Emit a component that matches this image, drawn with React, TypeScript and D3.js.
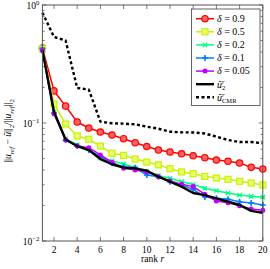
import { useEffect, useRef } from "react";
import * as d3 from "d3";

// rank r (x axis categories)
const ranks = [1, 2, 3, 4, 5, 6, 7, 8, 9, 10, 11, 12, 13, 14, 15, 16, 17, 18, 19, 20];
const xTicks = [2, 4, 6, 8, 10, 12, 14, 16, 18, 20];
const yDecades = [1, 0.1, 0.01];

// relative error values
const delta09 = [0.432, 0.187, 0.139, 0.102, 0.0907, 0.0839, 0.0791, 0.0736, 0.0681, 0.0632, 0.059, 0.0568, 0.0549, 0.0528, 0.0508, 0.0486, 0.0474, 0.0458, 0.0421, 0.0408];
const delta05 = [0.425, 0.145, 0.098, 0.0776, 0.0728, 0.0638, 0.0554, 0.0532, 0.0495, 0.0467, 0.0442, 0.041, 0.0385, 0.0372, 0.0353, 0.0342, 0.0333, 0.0321, 0.031, 0.0298];
const delta02 = [0.42, 0.124, 0.0732, 0.0651, 0.0602, 0.0505, 0.0477, 0.045, 0.0418, 0.0387, 0.0358, 0.034, 0.0318, 0.0301, 0.028, 0.0267, 0.0255, 0.0245, 0.0239, 0.0235];
const delta01 = [0.428, 0.1215, 0.0718, 0.0638, 0.059, 0.0518, 0.0455, 0.0426, 0.0418, 0.0362, 0.0351, 0.0318, 0.0298, 0.0274, 0.0236, 0.023, 0.0226, 0.0215, 0.021, 0.0202];
const delta005 = [0.411, 0.12, 0.0718, 0.0638, 0.0618, 0.0536, 0.0465, 0.0413, 0.04, 0.0387, 0.0351, 0.0323, 0.0303, 0.0289, 0.0249, 0.0218, 0.0211, 0.0199, 0.0187, 0.0182];
const u2 = [0.416, 0.124, 0.0725, 0.0638, 0.059, 0.0495, 0.0447, 0.0418, 0.0413, 0.0394, 0.0351, 0.0318, 0.0289, 0.0255, 0.0245, 0.023, 0.0215, 0.0202, 0.018, 0.0173];
const cmr = [0.861, 0.536, 0.5, 0.198, 0.192, 0.1026, 0.0994, 0.0987, 0.0975, 0.0931, 0.0895, 0.0844, 0.0834, 0.0831, 0.0815, 0.0766, 0.0718, 0.069, 0.069, 0.0673];

const deltaLabels = ["0.9", "0.5", "0.2", "0.1", "0.05"];

type Series = { values: number[]; color: string; mark: string; width: number; dash?: string };

const series: Series[] = [
  { values: delta09, color: "#ff0000", mark: "circle", width: 1.5 },
  { values: delta05, color: "#ccf000", mark: "square", width: 1.5 },
  { values: delta02, color: "#00ff80", mark: "x", width: 1.5 },
  { values: delta01, color: "#0080ff", mark: "plus", width: 1.5 },
  { values: delta005, color: "#c000ff", mark: "dot", width: 1.5 },
  { values: u2, color: "#000000", mark: "none", width: 2.4 },
  { values: cmr, color: "#000000", mark: "none", width: 2.4, dash: "3,2.5" },
];

const FONT = "Liberation Serif, DejaVu Serif, serif";

function drawMark(g: any, kind: string, cx: number, cy: number, color: string) {
  if (kind === "circle") {
    g.append("circle").attr("cx", cx).attr("cy", cy).attr("r", 3.2)
      .attr("fill", "#ff6060").attr("stroke", color).attr("stroke-width", 1.2);
  } else if (kind === "square") {
    g.append("rect").attr("x", cx - 3).attr("y", cy - 3).attr("width", 6).attr("height", 6)
      .attr("fill", "#e4ff70").attr("stroke", color).attr("stroke-width", 1.2);
  } else if (kind === "x") {
    const s = 2.2;
    g.append("path").attr("d", `M${cx - s},${cy - s}L${cx + s},${cy + s}M${cx - s},${cy + s}L${cx + s},${cy - s}M${cx - s},${cy}L${cx + s},${cy}`)
      .attr("stroke", color).attr("stroke-width", 1.2);
  } else if (kind === "plus") {
    const s = 3;
    g.append("path").attr("d", `M${cx - s},${cy}L${cx + s},${cy}M${cx},${cy - s}L${cx},${cy + s}`)
      .attr("stroke", color).attr("stroke-width", 1.6);
    g.append("circle").attr("cx", cx).attr("cy", cy).attr("r", 1.4).attr("fill", color);
  } else if (kind === "dot") {
    g.append("circle").attr("cx", cx).attr("cy", cy).attr("r", 2.5).attr("fill", color);
  }
}

const Chart = () => {
  const ref = useRef<SVGSVGElement>(null);
  useEffect(() => {
    const svg = d3.select(ref.current);
    svg.selectAll("*").remove();
    svg.attr("width", 270).attr("height", 269);

    const x = d3.scaleLinear().domain([1, 20]).range([42.4, 262.8]);
    const y = d3.scaleLog().domain([0.01, 1]).range([241, 5]);
    const [x0, x1] = x.range();
    const [y0, y1] = y.range();
    const axisColor = "#555";

    // ticks (inside, both sides)
    const ticks = svg.append("g").attr("stroke", axisColor).attr("stroke-width", 0.8);
    xTicks.forEach((t) => {
      ticks.append("line").attr("x1", x(t)).attr("x2", x(t)).attr("y1", y0).attr("y2", y0 - 4);
      ticks.append("line").attr("x1", x(t)).attr("x2", x(t)).attr("y1", y1).attr("y2", y1 + 4);
    });
    const minor: number[] = [];
    [0.01, 0.1].forEach((d) => [2, 3, 4, 5, 6, 7, 8, 9].forEach((k) => minor.push(d * k)));
    minor.forEach((v) => {
      ticks.append("line").attr("x1", x0).attr("x2", x0 + 2.2).attr("y1", y(v)).attr("y2", y(v));
      ticks.append("line").attr("x1", x1).attr("x2", x1 - 2.2).attr("y1", y(v)).attr("y2", y(v));
    });
    yDecades.forEach((v) => {
      ticks.append("line").attr("x1", x0).attr("x2", x0 + 4).attr("y1", y(v)).attr("y2", y(v));
      ticks.append("line").attr("x1", x1).attr("x2", x1 - 4).attr("y1", y(v)).attr("y2", y(v));
    });

    // series
    const line = d3.line<number>()
      .x((_, i) => x(ranks[i]))
      .y((d) => y(d));
    series.forEach((s) => {
      svg.append("path").datum(s.values)
        .attr("fill", "none")
        .attr("stroke", s.color)
        .attr("stroke-width", s.width)
        .attr("stroke-dasharray", s.dash || null)
        .attr("stroke-linejoin", "round")
        .attr("d", line);
      const mg = svg.append("g");
      s.values.forEach((v, i) => drawMark(mg, s.mark, x(ranks[i]), y(v), s.color));
    });

    // frame
    svg.append("rect").attr("x", x0).attr("y", y1).attr("width", x1 - x0).attr("height", y0 - y1)
      .attr("fill", "none").attr("stroke", axisColor).attr("stroke-width", 1);

    // x tick labels
    xTicks.forEach((t) => {
      svg.append("text").attr("x", x(t)).attr("y", y0 + 11.5)
        .attr("text-anchor", "middle").style("font-family", FONT).style("font-size", "9.5px")
        .text(String(t));
    });
    // y tick labels
    yDecades.forEach((v) => {
      const exp = Math.round(Math.log10(v));
      const t = svg.append("text").attr("x", x0 - 3).attr("y", y(v) + 3.5)
        .attr("text-anchor", "end").style("font-family", FONT).style("font-size", "9.5px");
      t.append("tspan").text("10");
      t.append("tspan").attr("dy", -3.8).style("font-size", "6.8px").text(exp === 0 ? "0" : `\u2212${-exp}`);
    });

    // axis labels
    svg.append("text").attr("x", (x0 + x1) / 2).attr("y", 262)
      .attr("text-anchor", "middle").style("font-family", FONT).style("font-size", "9.5px")
      .call((t: any) => {
        t.append("tspan").text("rank ");
        t.append("tspan").style("font-style", "italic").text("r");
      });

    const yl = svg.append("text")
      .attr("transform", `translate(11,${(y0 + y1) / 2 + 8}) rotate(-90)`)
      .attr("text-anchor", "middle").style("font-family", FONT).style("font-size", "9.5px");
    const parts: [string, string, boolean][] = [
      ["||", "n", false], ["u", "n", true], ["ref", "sub", true], [" \u2212 ", "up", false],
      ["\u0169", "n", true], ["||", "n", false], ["2", "sub", false], ["/||", "up", false],
      ["u", "n", true], ["ref", "sub", true], ["||", "n", false], ["2", "sub", false],
    ];
    let shift = 0;
    parts.forEach(([txt, pos, it]) => {
      const target = pos === "sub" ? 2.5 : 0;
      const ts = yl.append("tspan").attr("dy", target - shift).text(txt);
      if (pos === "sub") ts.style("font-size", "6.8px");
      if (it) ts.style("font-style", "italic");
      shift = target;
    });

    // legend
    const lg = svg.append("g");
    lg.append("rect").attr("x", 191.5).attr("y", 9).attr("width", 68.5).attr("height", 96.5)
      .attr("fill", "white").attr("stroke", axisColor).attr("stroke-width", 0.9);
    const rowY = (i: number) => 18.7 + i * 13.1;
    series.forEach((s, i) => {
      const cy = rowY(i);
      lg.append("line").attr("x1", 196).attr("x2", 214).attr("y1", cy).attr("y2", cy)
        .attr("stroke", s.color).attr("stroke-width", s.width)
        .attr("stroke-dasharray", s.dash || null);
      drawMark(lg, s.mark, 205, cy, s.color);
      const t = lg.append("text").attr("x", 217).attr("y", cy + 3.3)
        .style("font-family", FONT).style("font-size", "10px");
      if (i < deltaLabels.length) {
        t.append("tspan").style("font-style", "italic").text("\u03b4");
        t.append("tspan").text(` = ${deltaLabels[i]}`);
      } else {
        t.append("tspan").style("font-style", "italic").text("\u0169");
        t.append("tspan").attr("dy", -4).style("font-size", "6.5px").style("font-style", "italic").text("r");
        t.append("tspan").attr("dx", -2.5).attr("dy", 6.5).style("font-size", "6.5px")
          .text(i === 5 ? "2" : "CMR");
      }
    });
  });
  return <svg ref={ref} style={{ position: "absolute", left: 0, top: 0 }} />;
};

export default function App() {
  return <Chart />;
}
